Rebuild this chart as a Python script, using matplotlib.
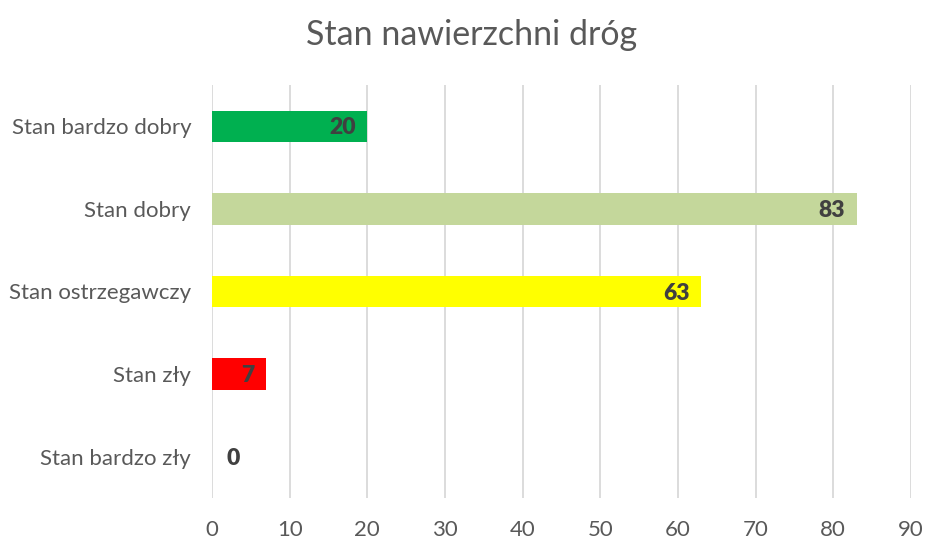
import matplotlib
matplotlib.use("Agg")
import matplotlib.pyplot as plt

categories = ["Stan bardzo dobry", "Stan dobry", "Stan ostrzegawczy", "Stan zły", "Stan bardzo zły"]
values = [20, 83, 63, 7, 0]
colors = ["#00B050", "#C4D79B", "#FFFF00", "#FF0000", "#FFFFFF"]
xticks = [0, 10, 20, 30, 40, 50, 60, 70, 80, 90]

plt.rcParams['font.family'] = ['Lato', 'DejaVu Sans']

fig = plt.figure(figsize=(9.27, 5.40), dpi=100)
ax = fig.add_axes([0.2287, 0.0778, 0.7540, 0.7648])

ypos = list(range(len(categories)))
ax.barh(ypos, values, height=0.38, color=colors, zorder=3)
ax.set_ylim(len(categories) - 0.5, -0.5)
ax.set_xlim(0, 90)
ax.set_xticks(xticks)
ax.set_yticks(ypos)
ax.set_yticklabels(categories)
ax.tick_params(axis='both', length=0, colors="#595959", labelsize=16)
ax.tick_params(axis='x', pad=16)
ax.tick_params(axis='y', pad=15)
for s in ax.spines.values():
    s.set_visible(False)
ax.grid(axis='x', color="#D9D9D9", linewidth=1.3, zorder=0)

for y, v in zip(ypos, values):
    if v >= 5:
        ax.text(v - 1.5, y + 0.02, str(v), ha='right', va='center', fontsize=16.5,
                fontweight='heavy', color="#404040", zorder=4)
    else:
        ax.text(v + 1.9, y + 0.02, str(v), ha='left', va='center', fontsize=16.5,
                fontweight='heavy', color="#404040", zorder=4)

fig.text(0.509, 0.935, "Stan nawierzchni dróg", ha='center', va='center',
         fontsize=24.5, color="#595959")

fig.savefig("out.png", dpi=100, facecolor="white")
